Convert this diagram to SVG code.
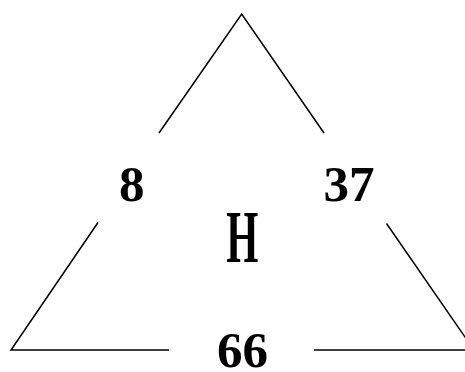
<svg xmlns="http://www.w3.org/2000/svg" width="465" height="372" viewBox="0 0 465 372">
<style>
.edge{stroke:#000;stroke-width:1.5;fill:none}
</style>
<rect width="465" height="372" fill="#fff"/>
<g id="connectors">
<polyline class="edge" points="159,133 241.7,14 324,133"/>
<polyline class="edge" points="98,222.5 11,350 169,350"/>
<polyline class="edge" points="386.5,223.5 474,350"/>
<line class="edge" x1="314" y1="350" x2="465" y2="350"/>
</g>
<g font-family="Liberation Serif" font-weight="bold" font-size="51" fill="#000" text-anchor="middle">
<g id="node-8"><text x="131.7" y="200.5">8</text></g>
<g id="node-37"><text x="349" y="200.5">37</text></g>
<g id="node-66"><text x="242.5" y="367">66</text></g>
<g id="node-H"><text transform="translate(242.2,261.7) scale(0.55,1)" font-size="75">H</text></g>
</g>
</svg>
